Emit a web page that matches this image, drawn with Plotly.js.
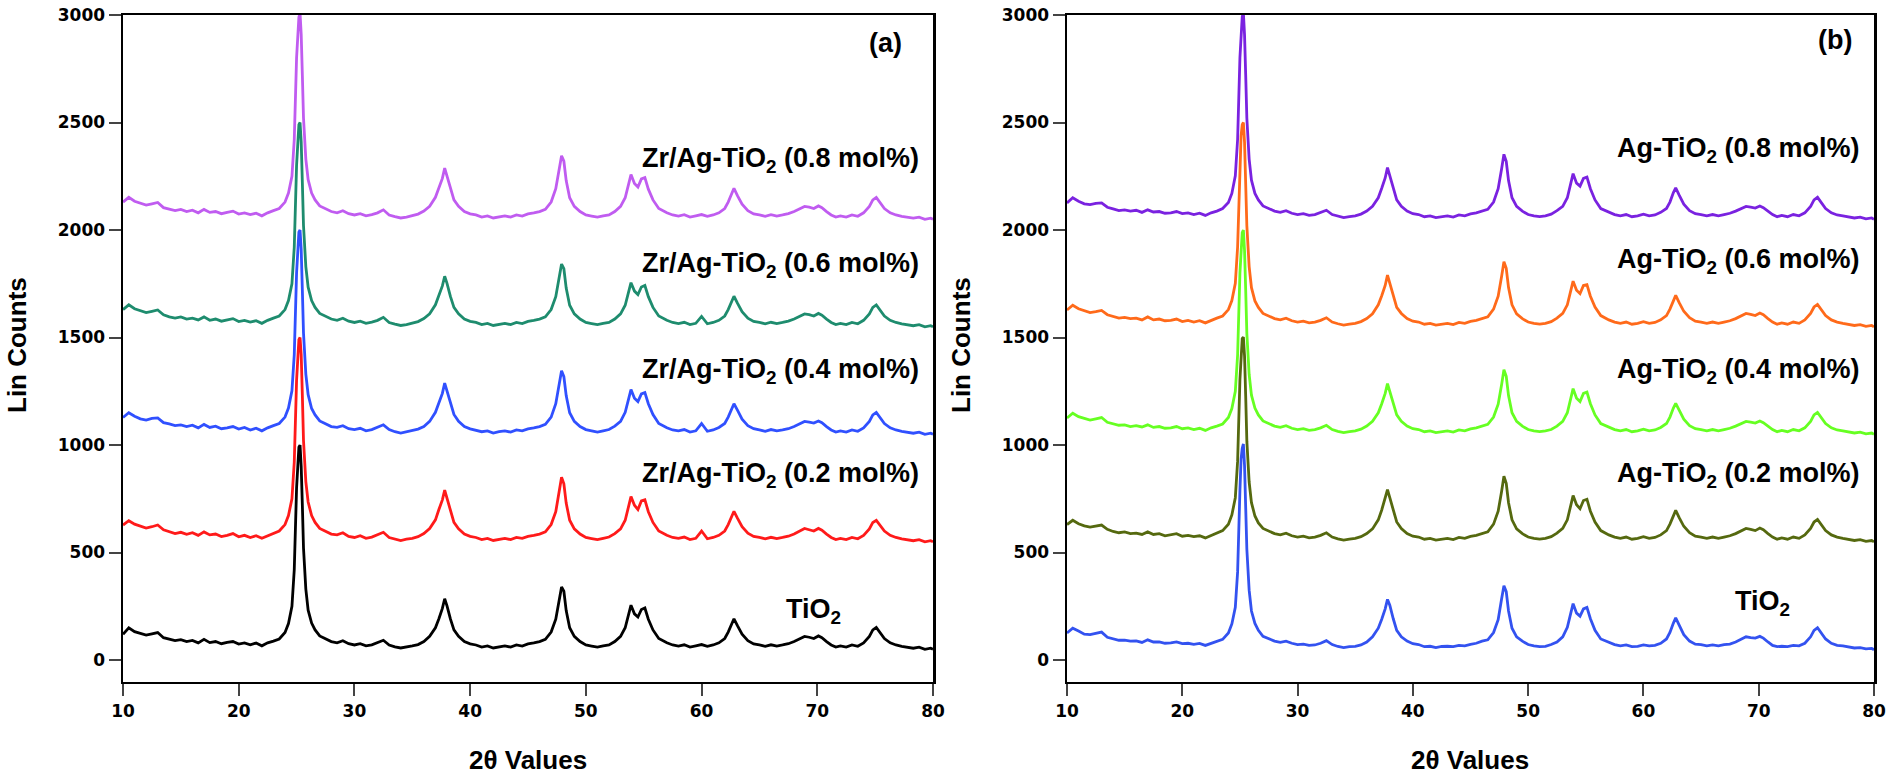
<!DOCTYPE html>
<html><head><meta charset="utf-8">
<script src="https://cdn.plot.ly/plotly-3.0.1.min.js"></script>
<style>html,body{margin:0;padding:0;background:#fff}#chart{width:1890px;height:774px}</style>
</head><body><div id="chart"></div>
<script>
// 2-theta positions (degrees)
const twoTheta = [10,10.5,11,11.5,12,12.5,13,13.5,14,14.5,15,15.5,16,16.5,17,17.5,18,18.5,19,19.5,20,20.5,21,21.5,22,22.5,23,23.5,
24,24.3,24.6,24.8,25,25.1,25.2,25.3,25.4,25.5,25.6,25.8,26,26.3,26.6,27,
27.5,28,28.5,29,29.5,30,30.5,31,31.5,32,32.5,33,33.5,34,34.5,35,35.5,36,36.5,
37,37.3,37.6,37.8,38,38.3,38.6,39,
39.5,40,40.5,41,41.5,42,42.5,43,43.5,44,44.5,45,45.5,46,46.5,
47,47.4,47.7,47.9,48.1,48.3,48.6,49,
49.5,50,50.5,51,51.5,52,52.5,
53,53.4,53.7,53.9,54.2,54.5,54.8,55.1,55.4,55.8,56.3,
57,57.5,58,58.5,59,59.5,60,60.5,61,61.5,
62,62.3,62.6,62.8,63.1,63.5,64,
64.5,65,65.5,66,66.5,67,67.5,68,
68.5,68.9,69.3,69.7,70.1,70.4,70.8,71.2,71.6,
72,72.5,73,73.5,74,
74.5,74.8,75.1,75.4,75.8,76.3,
76.8,77.3,77.8,78.3,78.8,79.3,79.8,80];

// Panel (a)
const a_TiO2 = [120,150,132,124,116,122,128,104,96,90,95,86,91,80,96,81,86,76,82,86,74,80,71,79,66,80,88,98,
128,170,250,420,800,940,990,1000,900,720,520,330,232,172,140,112,
100,86,80,90,76,70,76,66,71,80,92,70,61,56,60,66,72,86,110,
150,192,240,285,252,190,140,110,
86,75,70,60,66,56,61,66,60,70,65,75,80,86,96,
130,190,280,340,320,230,150,110,
86,70,65,60,66,70,86,
110,150,210,255,215,200,235,242,190,140,100,
80,70,65,71,60,66,72,64,70,80,
100,130,170,192,160,120,90,
75,70,64,71,65,70,76,86,
100,110,106,100,112,104,86,70,60,
66,60,70,64,80,
110,140,152,130,100,80,
70,64,60,55,60,50,55,50];
const a_ZrAg02 = [628,648,632,622,614,620,628,606,596,588,594,585,592,580,596,582,586,574,580,588,573,580,570,578,566,578,590,600,
630,672,750,920,1300,1440,1490,1500,1420,1230,1020,830,735,672,640,612,
600,586,582,592,575,570,578,566,572,582,594,570,562,556,562,566,574,588,612,
652,700,745,790,752,690,640,610,
586,575,570,560,566,556,562,566,560,570,566,575,580,586,596,
630,690,780,850,820,730,650,610,
586,570,565,560,566,572,588,
610,650,715,760,720,700,740,745,690,640,600,
580,570,566,572,560,566,600,564,570,580,
600,630,670,692,660,620,590,
575,570,564,571,565,570,576,586,
600,612,606,600,612,604,586,570,560,
566,560,570,564,580,
610,640,650,630,600,580,
570,564,560,555,560,550,555,550];
const a_ZrAg04 = [1128,1150,1134,1122,1116,1124,1126,1104,1098,1090,1094,1086,1092,1080,1096,1082,1088,1076,1080,1086,1074,1082,1070,1078,1066,1080,1090,1100,
1130,1172,1252,1420,1800,1940,1990,2000,1910,1720,1520,1330,1234,1170,1140,1112,
1100,1086,1082,1090,1076,1072,1078,1066,1072,1082,1094,1072,1062,1056,1062,1066,1074,1086,1110,
1152,1195,1240,1288,1250,1190,1142,1110,
1086,1075,1070,1062,1066,1056,1062,1066,1060,1070,1066,1075,1080,1086,1096,
1130,1192,1282,1345,1318,1230,1150,1110,
1086,1072,1066,1060,1066,1072,1088,
1110,1152,1212,1258,1218,1202,1238,1244,1192,1142,1100,
1080,1070,1066,1072,1060,1066,1100,1064,1070,1082,
1100,1130,1172,1192,1162,1120,1090,
1076,1070,1064,1072,1066,1070,1076,1086,
1100,1110,1106,1102,1112,1104,1086,1070,1060,
1066,1060,1070,1064,1080,
1110,1140,1152,1130,1100,1080,
1070,1064,1060,1055,1060,1050,1055,1050];
const a_ZrAg06 = [1630,1652,1634,1624,1616,1622,1628,1606,1596,1590,1596,1586,1590,1582,1596,1580,1586,1576,1582,1588,1574,1580,1572,1578,1566,1580,1590,1600,
1630,1672,1750,1920,2300,2440,2490,2500,2410,2220,2020,1830,1734,1672,1640,1612,
1600,1586,1580,1590,1576,1570,1576,1566,1572,1580,1594,1570,1562,1556,1560,1566,1574,1588,1610,
1652,1692,1740,1785,1752,1690,1640,1610,
1586,1575,1570,1560,1566,1556,1562,1566,1560,1570,1565,1575,1580,1586,1596,
1630,1690,1780,1842,1820,1730,1650,1610,
1586,1570,1565,1560,1566,1570,1586,
1610,1650,1712,1755,1716,1700,1735,1742,1690,1640,1600,
1580,1570,1565,1571,1560,1566,1598,1564,1570,1580,
1600,1630,1672,1692,1660,1620,1590,
1575,1570,1564,1571,1565,1570,1576,1586,
1600,1610,1606,1600,1612,1604,1586,1570,1560,
1566,1560,1570,1564,1580,
1610,1640,1652,1630,1600,1580,
1570,1564,1560,1555,1560,1550,1555,1550];
const a_ZrAg08 = [2130,2152,2134,2124,2116,2122,2128,2104,2096,2090,2096,2086,2092,2080,2096,2082,2086,2076,2082,2088,2074,2080,2072,2078,2066,2080,2090,2100,
2130,2172,2250,2420,2800,2940,2990,3010,2910,2720,2520,2330,2234,2172,2140,2112,
2100,2086,2080,2090,2076,2070,2076,2066,2072,2080,2094,2070,2062,2056,2060,2066,2074,2088,2110,
2152,2195,2240,2288,2252,2190,2140,2110,
2086,2075,2070,2060,2066,2056,2062,2066,2060,2070,2065,2075,2080,2086,2096,
2130,2192,2282,2345,2320,2230,2150,2110,
2086,2070,2065,2060,2066,2070,2086,
2110,2150,2212,2258,2216,2200,2238,2244,2190,2140,2100,
2080,2070,2065,2071,2060,2066,2072,2064,2070,2080,
2100,2130,2172,2194,2160,2120,2090,
2075,2070,2064,2071,2065,2070,2076,2086,
2100,2110,2106,2100,2112,2104,2086,2070,2060,
2066,2060,2070,2064,2080,
2110,2140,2152,2130,2100,2080,
2070,2064,2060,2055,2060,2050,2055,2050];

// Panel (b)
const b_TiO2 = [126,148,135,120,118,124,130,106,98,92,93,88,89,82,94,84,84,78,80,84,76,78,73,77,68,78,86,96,
126,168,245,410,790,935,985,1005,905,725,515,325,228,170,138,110,
98,88,82,88,78,72,74,68,70,78,90,72,63,58,62,64,70,84,108,
148,190,238,282,255,192,138,108,
88,76,72,62,64,58,63,64,62,68,66,73,78,88,94,
128,188,285,345,318,228,148,108,
88,72,66,62,64,72,84,
108,152,212,262,218,204,238,245,192,138,98,
82,72,66,70,62,64,70,66,68,78,
98,128,172,196,162,118,88,
74,72,66,70,66,72,74,84,
98,108,104,102,110,102,84,68,62,
64,62,68,66,78,
108,138,150,128,98,78,
68,66,62,56,58,52,54,48];
const b_Ag02 = [630,650,634,624,618,624,628,608,598,592,596,588,590,584,596,584,588,578,582,588,576,580,574,578,568,580,590,602,
632,675,755,925,1305,1445,1495,1502,1415,1228,1018,828,732,670,638,612,
600,588,582,590,578,572,576,568,572,580,592,572,564,558,562,566,574,588,610,
652,698,748,792,755,692,642,612,
588,576,572,562,566,558,562,566,560,570,566,575,580,588,596,
632,692,785,855,822,732,652,610,
588,572,566,562,566,574,590,
612,652,718,765,722,704,742,748,692,642,602,
582,572,566,572,562,566,574,566,570,582,
602,632,674,696,662,622,592,
576,572,566,572,566,572,578,588,
602,612,608,602,614,606,588,572,562,
568,562,572,566,582,
612,642,654,632,602,582,
572,566,562,556,560,552,556,550];
const b_Ag04 = [1126,1148,1132,1124,1116,1122,1128,1106,1098,1092,1094,1086,1090,1084,1094,1082,1086,1078,1080,1086,1076,1080,1072,1078,1068,1080,1088,1098,
1128,1170,1250,1420,1800,1938,1988,2000,1905,1722,1518,1328,1232,1172,1140,1112,
1100,1088,1082,1090,1078,1072,1076,1068,1072,1080,1092,1072,1064,1058,1062,1066,1074,1088,1110,
1150,1192,1240,1286,1252,1192,1140,1110,
1088,1076,1072,1062,1066,1058,1062,1066,1060,1070,1066,1075,1080,1088,1096,
1130,1190,1282,1350,1320,1230,1150,1110,
1088,1072,1066,1062,1066,1072,1088,
1110,1150,1214,1262,1218,1202,1240,1246,1192,1140,1100,
1082,1072,1066,1072,1062,1066,1074,1066,1070,1082,
1100,1130,1172,1194,1162,1120,1090,
1076,1072,1066,1072,1066,1072,1078,1088,
1100,1110,1106,1102,1112,1104,1088,1072,1062,
1068,1062,1072,1066,1080,
1110,1140,1152,1130,1100,1080,
1070,1066,1062,1056,1060,1052,1056,1050];
const b_Ag06 = [1628,1650,1634,1624,1616,1620,1626,1606,1598,1590,1594,1588,1590,1582,1596,1582,1586,1578,1580,1586,1574,1580,1572,1578,1568,1580,1590,1600,
1630,1672,1752,1922,2302,2438,2490,2500,2408,2222,2020,1830,1732,1670,1640,1612,
1600,1588,1582,1590,1578,1572,1576,1568,1572,1580,1592,1572,1564,1558,1562,1566,1574,1588,1610,
1652,1694,1742,1790,1752,1692,1640,1612,
1588,1576,1572,1562,1566,1558,1562,1566,1560,1570,1566,1575,1580,1588,1596,
1632,1692,1785,1852,1822,1732,1652,1610,
1588,1572,1566,1562,1566,1574,1590,
1612,1652,1718,1762,1720,1704,1742,1746,1692,1642,1602,
1582,1572,1566,1572,1562,1566,1574,1566,1570,1582,
1602,1632,1674,1696,1662,1622,1592,
1576,1572,1566,1572,1566,1572,1578,1588,
1602,1612,1608,1602,1614,1606,1588,1572,1562,
1568,1562,1572,1566,1582,
1612,1642,1654,1632,1602,1582,
1572,1566,1562,1556,1560,1552,1556,1550];
const b_Ag08 = [2126,2150,2134,2122,2118,2124,2126,2106,2098,2090,2094,2088,2092,2082,2094,2084,2086,2078,2080,2086,2076,2080,2072,2078,2068,2080,2088,2100,
2128,2170,2252,2422,2802,2942,2992,3010,2908,2722,2520,2330,2232,2170,2140,2112,
2100,2088,2082,2090,2078,2072,2076,2068,2072,2082,2092,2072,2064,2058,2062,2066,2074,2088,2110,
2150,2194,2242,2290,2254,2192,2140,2110,
2088,2076,2072,2062,2066,2058,2062,2066,2060,2070,2066,2075,2080,2088,2096,
2130,2192,2285,2352,2320,2230,2150,2110,
2088,2072,2066,2062,2066,2074,2090,
2110,2150,2215,2262,2218,2204,2240,2246,2192,2140,2100,
2082,2072,2066,2072,2062,2066,2074,2066,2070,2082,
2100,2130,2174,2196,2162,2120,2090,
2076,2072,2066,2072,2066,2072,2078,2088,
2100,2110,2106,2102,2112,2104,2088,2072,2062,
2068,2062,2072,2066,2080,
2110,2140,2152,2130,2100,2080,
2070,2066,2062,2056,2060,2052,2056,2050];

const yTickVals = [0,500,1000,1500,2000,2500,3000];
const xTickVals = [10,20,30,40,50,60,70,80];

const labelsA = ["TiO<sub>2</sub>","Zr/Ag-TiO<sub>2</sub> (0.2 mol%)","Zr/Ag-TiO<sub>2</sub> (0.4 mol%)","Zr/Ag-TiO<sub>2</sub> (0.6 mol%)","Zr/Ag-TiO<sub>2</sub> (0.8 mol%)"];
const labelsB = ["TiO<sub>2</sub>","Ag-TiO<sub>2</sub> (0.2 mol%)","Ag-TiO<sub>2</sub> (0.4 mol%)","Ag-TiO<sub>2</sub> (0.6 mol%)","Ag-TiO<sub>2</sub> (0.8 mol%)"];
const labelYA = [230, 860, 1345, 1835, 2325];
const labelYB = [265, 860, 1345, 1855, 2370];

const seriesA = [a_TiO2, a_ZrAg02, a_ZrAg04, a_ZrAg06, a_ZrAg08];
const seriesB = [b_TiO2, b_Ag02, b_Ag04, b_Ag06, b_Ag08];
const colorsA = ["#000000","#ff1a1a","#3050ff","#1e8c6e","#c05cf0"];
const colorsB = ["#3352f0","#55690f","#66ff22","#ff6a1a","#7a22e0"];

const traces = [];
seriesA.forEach((ys,i)=>traces.push({x:twoTheta,y:ys,type:'scatter',mode:'lines',xaxis:'x',yaxis:'y',
  line:{color:colorsA[i],width:2.8},showlegend:false,hoverinfo:'skip'}));
seriesB.forEach((ys,i)=>traces.push({x:twoTheta,y:ys,type:'scatter',mode:'lines',xaxis:'x2',yaxis:'y2',
  line:{color:colorsB[i],width:2.8},showlegend:false,hoverinfo:'skip'}));

const tickFont = {family:'DejaVu Sans',size:17,color:'#000',weight:'bold'};
const labFont = {family:'Liberation Sans, Arial',size:27,color:'#000',weight:'bold'};
const axTitleFont = {family:'Liberation Sans, Arial',size:26,color:'#000',weight:'bold'};

function xa(domain){return {domain:domain,range:[10,80],tickvals:xTickVals,ticks:'outside',ticklen:12,tickwidth:2,
  showline:true,linewidth:2.5,linecolor:'#000',mirror:true,showgrid:false,zeroline:false,tickfont:tickFont,fixedrange:true};}
function ya(anchor){return {domain:[0.1189,0.9806],range:[-102,3000],tickvals:yTickVals,ticks:'outside',ticklen:12,tickwidth:2,
  showline:true,linewidth:2.5,linecolor:'#000',mirror:true,showgrid:false,zeroline:false,tickfont:tickFont,anchor:anchor,fixedrange:true};}

const ann = [];
labelsA.forEach((t,i)=>ann.push({xref:'x',yref:'y',x:(i===0?72.2:79.0),y:labelYA[i],text:t,showarrow:false,xanchor:'right',yanchor:'middle',font:labFont}));
labelsB.forEach((t,i)=>ann.push({xref:'x2',yref:'y2',x:(i===0?72.9:79.0),y:labelYB[i],text:t,showarrow:false,xanchor:'right',yanchor:'middle',font:labFont}));
ann.push({xref:'x',yref:'y',x:75.9,y:2870,text:'(a)',showarrow:false,font:labFont});
ann.push({xref:'x2',yref:'y2',x:76.6,y:2884,text:'(b)',showarrow:false,font:labFont});
ann.push({xref:'paper',yref:'paper',x:17/1890,y:1-345/774,text:'Lin Counts',textangle:-90,showarrow:false,font:axTitleFont,xanchor:'center',yanchor:'middle'});
ann.push({xref:'paper',yref:'paper',x:961/1890,y:1-345/774,text:'Lin Counts',textangle:-90,showarrow:false,font:axTitleFont,xanchor:'center',yanchor:'middle'});
ann.push({xref:'paper',yref:'paper',x:528/1890,y:1-760/774,text:'2θ Values',showarrow:false,font:axTitleFont,xanchor:'center',yanchor:'middle'});
ann.push({xref:'paper',yref:'paper',x:1470/1890,y:1-760/774,text:'2θ Values',showarrow:false,font:axTitleFont,xanchor:'center',yanchor:'middle'});

const layout = {width:1890,height:774,margin:{l:0,r:0,t:0,b:0},paper_bgcolor:'#fff',plot_bgcolor:'#fff',
  xaxis:Object.assign(xa([123/1890,933/1890]),{anchor:'y'}),
  yaxis:ya('x'),
  xaxis2:Object.assign(xa([1067/1890,1874/1890]),{anchor:'y2'}),
  yaxis2:ya('x2'),
  annotations:ann,showlegend:false};

Plotly.newPlot('chart',traces,layout,{staticPlot:true,displayModeBar:false});
</script></body></html>
